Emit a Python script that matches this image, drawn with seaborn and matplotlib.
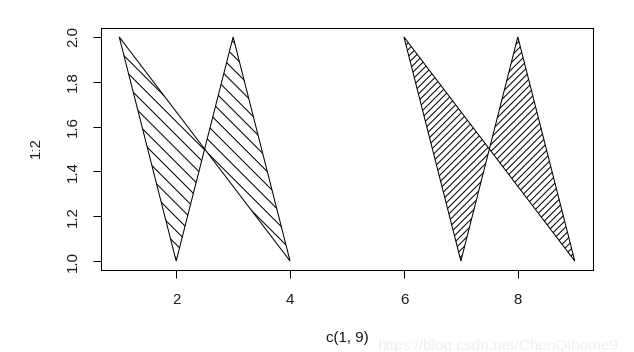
import numpy as np
import matplotlib
matplotlib.use("Agg")
import matplotlib.pyplot as plt
import seaborn as sns

# Data (R: polygon(1:9, c(2,1,2,1,NA,2,1,2,1), density=c(10,20), angle=c(-45,45)))
x_vals = [1, 2, 3, 4, 5, 6, 7, 8, 9]
y_vals = [2, 1, 2, 1, np.nan, 2, 1, 2, 1]
x_ticks = [2, 4, 6, 8]
y_ticks = [1.0, 1.2, 1.4, 1.6, 1.8, 2.0]
x_label = "c(1, 9)"
y_label = "1:2"
hatches = ["\\\\", "////"]
watermark = "https://blog.csdn.net/ChenQihome9"

DPI = 82
sns.set_theme(style="ticks")
plt.rcParams["font.family"] = ["Liberation Sans", "DejaVu Sans"]
plt.rcParams["hatch.linewidth"] = 0.9
plt.rcParams["hatch.color"] = "black"

fig = plt.figure(figsize=(634 / DPI, 352 / DPI), dpi=DPI)
fig.patch.set_facecolor("white")
ax = fig.add_axes([101 / 634, 1 - 270 / 352, (593 - 101) / 634, (270 - 28) / 352])
ax.set_facecolor("white")

# split into polygons at NaN
xs = np.array(x_vals, dtype=float)
ys = np.array(y_vals, dtype=float)
breaks = np.where(np.isnan(ys))[0]
segments = np.split(np.arange(len(xs)), breaks)
for i, seg in enumerate(segments):
    seg = seg[~np.isnan(ys[seg])]
    ax.fill(xs[seg], ys[seg], facecolor="none", edgecolor="black",
            hatch=hatches[i % len(hatches)], linewidth=0.9)

xr = max(x_vals) - min(x_vals)
ax.set_xlim(min(x_vals) - 0.04 * xr, max(x_vals) + 0.04 * xr)
ylo, yhi = np.nanmin(ys), np.nanmax(ys)
ax.set_ylim(ylo - 0.04 * (yhi - ylo), yhi + 0.04 * (yhi - ylo))

ax.set_xticks(x_ticks)
ax.set_xticklabels([str(t) for t in x_ticks])
ax.set_yticks(y_ticks)
ax.set_yticklabels([f"{t:.1f}" for t in y_ticks])

fs = 13.2
ax.tick_params(axis="both", direction="out", length=7.2, width=0.9,
               color="black", labelcolor="#1a1a1a", labelsize=fs)
ax.tick_params(axis="x", pad=13)
ax.tick_params(axis="y", pad=11, labelrotation=90)
for lbl in ax.get_yticklabels():
    lbl.set_verticalalignment("center")

for sp in ax.spines.values():
    sp.set_color("black")
    sp.set_linewidth(0.9)
    sp.set_visible(True)

fig.text(347 / 634, 1 - 338 / 352, x_label, ha="center", va="center",
         fontsize=fs, color="#1a1a1a")
fig.text(36 / 634, 1 - 148 / 352, y_label, ha="center", va="center",
         rotation=90, fontsize=fs, color="#1a1a1a")
fig.text(378 / 634, 2 / 352, watermark, ha="left", va="baseline",
         fontsize=13.5, color="#f0f0f0")

fig.savefig("out.png", dpi=DPI, facecolor="white")
